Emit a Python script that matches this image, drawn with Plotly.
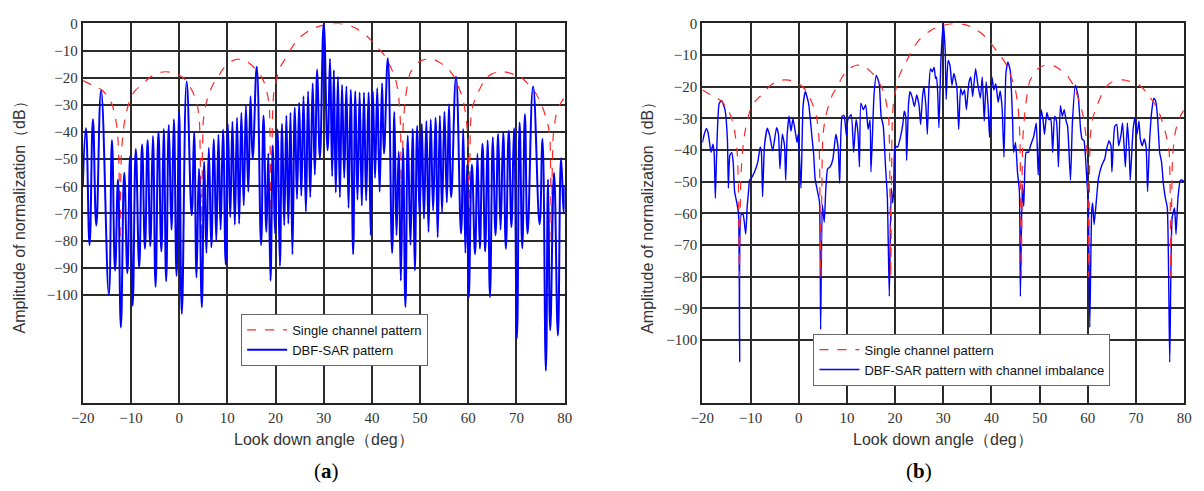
import plotly.graph_objects as go

# ---------------- data ----------------
tick_x = [-20, -10, 0, 10, 20, 30, 40, 50, 60, 70, 80]
tick_x_text = ["\u221220", "\u221210", "0", "10", "20", "30", "40", "50", "60", "70", "80"]
tick_y = [0, -10, -20, -30, -40, -50, -60, -70, -80, -90, -100]
tick_y_text = ["0"] + ["\u2212%d" % (-v) for v in tick_y[1:]]

# single channel pattern (same in both panels)
single_angle = [-20, -19, -18, -17, -16, -15, -14, -13.3, -12.8, -12.5, -12.3, -12.0, -11.5, -11.0,
                -10, -9, -8, -7, -6, -5, -4, -3, -2, -1, 0, 1, 2, 3, 3.7, 4.2, 4.6, 5.0, 5.5, 6, 7, 8,
                9, 10, 11, 12, 13, 14, 15, 16, 17, 17.7, 18.3, 18.7, 19.1, 19.4, 19.7, 20.5, 21, 22, 23,
                24, 25, 26, 27, 28, 29, 30, 31, 32, 33, 34, 35, 36, 37, 38, 39, 40, 41, 42, 43, 44, 44.9,
                45.5, 45.9, 46.2, 46.5, 47, 47.6, 48, 49, 49.7, 50.5, 51.7, 53, 54, 55, 55.8, 57, 58.2,
                59, 59.5, 59.9, 60.2, 60.5, 61, 61.9, 63, 63.9, 65, 66, 67.3, 68.5, 69.5, 70.8, 72, 73,
                74.1, 75, 76.2, 76.9, 77.2, 77.6, 78.2, 79, 80]
single_db = [-21, -21.9, -22.8, -23.6, -24.6, -26.5, -29.5, -34, -40, -52, -80, -48, -38, -33,
             -27, -24.5, -23, -21.3, -19.8, -18.7, -18.1, -17.8, -17.9, -18.3, -19, -20.3, -22.5, -26,
             -29.5, -36, -80, -36, -30, -27, -22.5, -20, -17, -15, -13.8, -13.2, -13.3, -14, -15.3,
             -17, -19.5, -22, -26, -30.5, -80, -32, -24.5, -18.5, -16, -13, -10, -7.3, -5.2, -3.8,
             -2.6, -1.7, -1.1, -0.6, -0.25, -0.05, 0, -0.2, -0.6, -1.2, -2.1, -3.2, -4.7, -6.5, -8.5,
             -10.5, -12.8, -16.5, -20.5, -26, -36, -80, -37, -27, -20.5, -18, -15.5, -14.2, -13.5,
             -13.1, -13.4, -14.3, -15.5, -16.6, -19.5, -24.4, -29, -34, -42, -80, -36, -30, -26, -22,
             -19.8, -18.5, -18, -17.8, -18.2, -18.8, -19.6, -21.5, -23.5, -26, -29, -35, -41, -80,
             -42, -34, -30, -27]

# DBF-SAR pattern (panel a): alternating nulls and lobe peaks
dbf_angle = [-20.0, -19.35, -18.6, -17.9, -17.2, -16.2, -14.6, -13.95, -13.3, -12.7, -12.1, -11.4,
             -10.75, -10.2, -9.65, -9.0, -8.3, -7.7, -7.1, -6.55, -6.0, -5.45, -4.9, -4.3, -3.7, -3.2,
             -2.7, -2.15, -1.6, -1.1, -0.55, 0.0, 0.55, 1.55, 2.6, 3.1, 3.6, 4.1, 4.7, 5.2, 5.65, 6.15,
             6.67, 7.2, 7.7, 8.15, 8.6, 9.1, 9.65, 10.1, 10.6, 11.05, 11.55, 12.0, 12.45, 12.9, 13.4,
             13.85, 14.35, 14.8, 15.25, 16.1, 17.0, 17.5, 18.1, 18.5, 18.95, 19.45, 19.9, 20.4, 20.9,
             21.35, 21.8, 22.25, 22.65, 23.1, 23.5, 24.0, 24.45, 24.9, 25.35, 25.8, 26.3, 26.75, 27.2,
             27.7, 28.15, 28.65, 29.2, 30.0, 30.8, 31.3, 31.75, 32.1, 32.5, 32.95, 33.35, 33.8, 34.25,
             34.7, 35.15, 35.6, 36.1, 36.55, 37.0, 37.45, 37.9, 38.35, 38.8, 39.3, 39.75, 40.2, 40.65,
             41.1, 41.6, 42.1, 42.5, 43.3, 44.2, 44.65, 45.1, 45.55, 46.0, 46.45, 46.95, 47.45, 48.0,
             48.45, 48.9, 49.4, 49.9, 50.35, 50.8, 51.3, 51.75, 52.2, 52.7, 53.2, 53.65, 54.1, 54.55,
             55.05, 55.55, 56.0, 56.45, 57.45, 58.5, 58.95, 59.4, 59.75, 60.1, 60.75, 61.4, 61.9, 62.4,
             62.95, 63.5, 64.0, 64.5, 65.1, 65.65, 66.2, 66.7, 67.25, 67.8, 68.4, 68.95, 69.5, 70.1,
             70.65, 71.2, 71.75, 72.3, 73.45, 74.8, 75.4, 76.1, 76.55, 77.0, 77.8, 78.6, 79.25, 79.8,
             80.0]
dbf_db = [-60, -38.6, -81.6, -35.3, -74.4, -24.7, -100, -43, -91, -57.5, -112, -55, -92, -49, -104,
          -46.3, -90, -44.6, -83, -43, -82, -41.5, -97, -40, -84, -38.9, -95, -37.4, -76, -35.3, -93,
          -32.2, -107, -21.4, -70.7, -40, -93.6, -53.5, -104.5, -51, -84.6, -45.8, -82.5, -42.7, -80,
          -41, -76, -39.1, -88.8, -37, -71.4, -36.2, -74.2, -34.7, -73.8, -32.9, -67, -30.4, -62,
          -26.8, -50, -16, -81.6, -34, -76.8, -47.9, -94.8, -44.9, -77.4, -39.1, -89.4, -37, -74.4,
          -34, -73.8, -32.9, -85, -31, -64.7, -29.2, -63.5, -26.8, -69.4, -25, -64, -22, -55.7, -17,
          -49.7, 0, -46.7, -13, -56.3, -17.2, -62.3, -19.6, -64.1, -22.6, -56.9, -23.2, -68, -24.4,
          -85, -25, -65, -25.4, -67.1, -25.4, -65.3, -25.4, -78, -25, -56.9, -23.8, -62, -22, -48,
          -12.8, -84.6, -32.6, -78, -47.3, -94.8, -46, -104.5, -41.3, -81.6, -38.9, -91, -37.7, -71,
          -37, -72, -35.9, -76.8, -35.3, -69, -34.7, -78.8, -34, -69.6, -32.5, -66, -29.8, -64, -19.6,
          -77.4, -38.9, -84.6, -52, -101, -52, -85, -48, -83, -44.3, -84, -43, -100.8, -41.9, -78,
          -40.7, -76, -40, -83, -39.5, -75, -38.6, -116, -36.5, -82.8, -33.5, -77.4, -23.2, -74,
          -42.5, -128, -57.5, -113, -55, -115, -49.7, -70, -60]

# DBF-SAR pattern with channel imbalance (panel b)
imb_angle = [-20, -19.6, -19.2, -18.8, -18.2, -17.8, -17.55, -17.3, -17.05, -16.5, -16.0, -15.3, -14.8,
             -14.6, -14.3, -13.9, -13.6, -13.3, -12.9, -12.5, -12.25, -11.95, -11.55, -11.0, -10.7,
             -10.35, -10.2, -9.9, -9.2, -8.5, -8.0, -7.75, -7.5, -7.1, -6.5, -6.0, -5.4, -4.6, -4.2,
             -3.9, -3.4, -2.95, -2.7, -2.4, -2.0, -1.6, -1.2, -0.7, -0.35, -0.1, 0.47, 0.9, 1.37, 2.04,
             2.6, 2.86, 3.1, 3.4, 3.9, 4.3, 4.55, 4.9, 5.3, 5.6, 6.0, 6.5, 7.1, 7.7, 8.2, 8.5, 9.0,
             9.4, 9.9, 10.2, 10.9, 11.4, 11.9, 12.3, 12.6, 12.9, 13.4, 13.9, 14.4, 14.8, 15.0, 15.65,
             16.1, 16.7, 17.1, 17.55, 18.0, 18.4, 18.8, 19.2, 19.5, 19.7, 20.0, 20.5, 21.1, 21.6, 21.9,
             22.2, 22.4, 22.8, 23.1, 23.6, 24.0, 24.5, 25.0, 25.3, 25.7, 26.0, 26.4, 26.7, 27.0, 27.35,
             27.7, 28.1, 28.4, 28.6, 28.85, 29.1, 29.5, 30.0, 30.4, 30.6, 31.0, 31.4, 31.8, 32.2, 32.8,
             33.2, 33.6, 34.0, 34.4, 34.8, 35.3, 35.7, 36.1, 36.7, 37.1, 37.7, 38.1, 38.5, 38.9, 39.3,
             39.6, 40.1, 40.5, 40.9, 41.4, 41.8, 42.2, 42.6, 43.0, 43.4, 43.9, 44.4, 44.6, 45.0, 45.4,
             45.8, 46.0, 46.4, 46.7, 47.2, 47.7, 48.1, 48.8, 49.3, 49.7, 50.3, 50.7, 51.0, 51.5, 51.9,
             52.3, 52.7, 53.1, 53.5, 53.9, 54.3, 54.7, 55.1, 55.5, 55.8, 56.4, 56.8, 57.4, 58.0, 58.5,
             58.8, 59.2, 59.6, 59.8, 60.1, 60.4, 60.8, 61.0, 61.3, 61.7, 62.2, 62.9, 63.5, 63.9, 64.4,
             64.8, 65.0, 65.6, 66.0, 66.4, 66.9, 67.2, 67.6, 67.8, 68.2, 68.6, 68.8, 69.4, 69.8, 70.2,
             70.6, 70.9, 71.3, 71.7, 72.1, 72.4, 72.8, 73.3, 73.7, 74.1, 74.5, 74.9, 75.3, 75.7, 76.1,
             76.5, 77.0, 77.5, 78.0, 78.3, 78.7, 79.2, 79.6, 80.0]
imb_db = [-37.6, -35, -33.2, -34.5, -40.7, -38.1, -41, -55.2, -42, -25.2, -24.4, -27.2, -36.5, -52,
          -41.7, -40.7, -43.8, -53.1, -56.2, -60, -106.9, -60.3, -60.3, -66.5, -58, -52, -49.5, -49,
          -47, -43.8, -39.1, -40.5, -54.7, -38.6, -33.1, -35.5, -40.2, -32.9, -35, -45.9, -35, -38.5,
          -49.5, -35.3, -29.3, -34, -30.1, -34.3, -37.6, -35, -52, -26.2, -21.5, -25.2, -33.4, -37.6,
          -41.2, -49, -53, -56.2, -96.6, -57.2, -62.8, -53, -45.9, -45.3, -42.8, -35, -39.6, -50.5,
          -29.3, -29, -35.5, -30.3, -28.8, -40.7, -30.3, -34.5, -45.3, -25.2, -27.2, -25.7, -33.4,
          -30.5, -46.9, -22, -16.4, -19, -29.3, -32.4, -44.8, -55, -86.2, -52, -56.7, -53, -38.6,
          -39.1, -36, -31.9, -27.7, -29.3, -43.3, -25.2, -21.5, -23.6, -26.2, -22.6, -26.2, -31.9,
          -23, -20, -26.2, -35, -21, -14.3, -15.3, -13.8, -17.4, -16.9, -22, -33, -12, 0, -8.6, -24,
          -11.7, -13.3, -19.5, -15.8, -20, -33.4, -20.5, -22.6, -21, -27.2, -18.9, -16.9, -23.1,
          -14.3, -18.5, -23.6, -16.9, -30.8, -18.4, -26, -36, -16.9, -21, -19, -24.9, -21.3, -26.4,
          -42.2, -15.8, -12.2, -14.8, -31.4, -40.7, -37.6, -46.9, -53, -86.2, -51, -57.8, -40.7,
          -40.7, -38.6, -35.5, -31.4, -47.9, -27.2, -30.3, -35, -28.1, -30.3, -30.3, -40.7, -29.3,
          -30.8, -45.3, -26, -29.3, -27.2, -30.8, -32.4, -49.5, -31.4, -19.5, -23, -33.4, -36.5, -37,
          -44.3, -49.5, -57.2, -96, -59.3, -56.7, -63.5, -57.2, -49, -44.8, -42.8, -39.6, -37, -38.6,
          -46.9, -32.4, -31.9, -38.6, -35, -31.4, -40.7, -45.3, -31.4, -40.7, -49.5, -33.4, -29.8,
          -35, -30.8, -36.5, -38.6, -36.5, -39.1, -53.1, -37.6, -27.2, -23.6, -24.6, -30.3, -40.7,
          -43.8, -51, -55.2, -58.3, -107, -61.4, -58.3, -66.6, -55.2, -49.5, -49.5, -50]

# ---------------- figure ----------------
RED = "rgb(255,40,40)"
BLUE = "rgb(0,0,255)"
W, H = 1204, 491

fig = go.Figure()
# panel (a)
fig.add_trace(go.Scatter(x=single_angle, y=single_db, mode="lines", name="Single channel pattern",
                         line=dict(color=RED, width=1.2, dash="dash", shape="spline", smoothing=0.6),
                         xaxis="x", yaxis="y", legend="legend", legendrank=1))
fig.add_trace(go.Scatter(x=dbf_angle, y=dbf_db, mode="lines", name="DBF-SAR pattern",
                         line=dict(color=BLUE, width=2.0, shape="spline", smoothing=1.3),
                         xaxis="x", yaxis="y", legend="legend", legendrank=2))
# panel (b)
fig.add_trace(go.Scatter(x=imb_angle, y=imb_db, mode="lines",
                         name="DBF-SAR pattern with channel imbalance",
                         line=dict(color=BLUE, width=1.4, shape="spline", smoothing=0.5),
                         xaxis="x2", yaxis="y2", legend="legend2", legendrank=2))
fig.add_trace(go.Scatter(x=single_angle, y=single_db, mode="lines", name="Single channel pattern",
                         line=dict(color=RED, width=1.2, dash="dash", shape="spline", smoothing=0.6),
                         xaxis="x2", yaxis="y2", legend="legend2", legendrank=1))

tickfont = dict(family="Liberation Serif", size=15, color="#333")
common_x = dict(range=[-20, 80], tickmode="array", tickvals=tick_x, ticktext=tick_x_text,
                showgrid=True, gridcolor="#2b2b2b", gridwidth=1.5, zeroline=False,
                showline=True, mirror=True, linecolor="#222", linewidth=2, ticks="",
                tickfont=tickfont)
common_y = dict(tickmode="array", tickvals=tick_y, ticktext=tick_y_text,
                showgrid=True, gridcolor="#2b2b2b", gridwidth=1.5, zeroline=False,
                showline=True, mirror=True, linecolor="#222", linewidth=2, ticks="",
                tickfont=tickfont)

legend_font = dict(family="Liberation Sans", size=13, color="#111")
ydom = [1 - 402 / H, 1 - 15.7 / H]
fig.update_layout(
    width=W, height=H, margin=dict(l=0, r=0, t=0, b=0),
    paper_bgcolor="white", plot_bgcolor="white",
    xaxis=dict(domain=[72 / W, 562 / W], anchor="y", **common_x),
    yaxis=dict(domain=ydom, anchor="x", range=[-140, 0], **common_y),
    xaxis2=dict(domain=[702 / W, 1192 / W], anchor="y2", **common_x),
    yaxis2=dict(domain=ydom, anchor="x2", range=[-120, 0], **common_y),
    legend=dict(x=233 / W, y=1 - 311 / H, xanchor="left", yanchor="top",
                bordercolor="#666", borderwidth=1, bgcolor="white", itemwidth=40,
                font=legend_font, tracegroupgap=0),
    legend2=dict(x=815 / W, y=1 - 331 / H, xanchor="left", yanchor="top",
                 bordercolor="#666", borderwidth=1, bgcolor="white", itemwidth=40,
                 font=legend_font, tracegroupgap=0),
)

title_font = dict(family="Liberation Sans", size=16, color="#333")
ann = [
    dict(text="Look down angle（deg）", x=317 / W, y=1 - 439 / H, font=title_font),
    dict(text="Look down angle（deg）", x=947 / W, y=1 - 439 / H, font=title_font),
    dict(text="Amplitude of normalization（dB）", x=8 / W, y=1 - 209 / H, textangle=-90, font=title_font),
    dict(text="Amplitude of normalization（dB）", x=646 / W, y=1 - 209 / H, textangle=-90, font=title_font),
    dict(text="(<b>a</b>)", x=320 / W, y=1 - 471 / H,
         font=dict(family="Liberation Serif", size=21, color="#000")),
    dict(text="(<b>b</b>)", x=922 / W, y=1 - 471 / H,
         font=dict(family="Liberation Serif", size=21, color="#000")),
]
for a in ann:
    a.update(xref="paper", yref="paper", showarrow=False, xanchor="center", yanchor="middle")
fig.update_layout(annotations=ann)

fig.write_html("out.html")
